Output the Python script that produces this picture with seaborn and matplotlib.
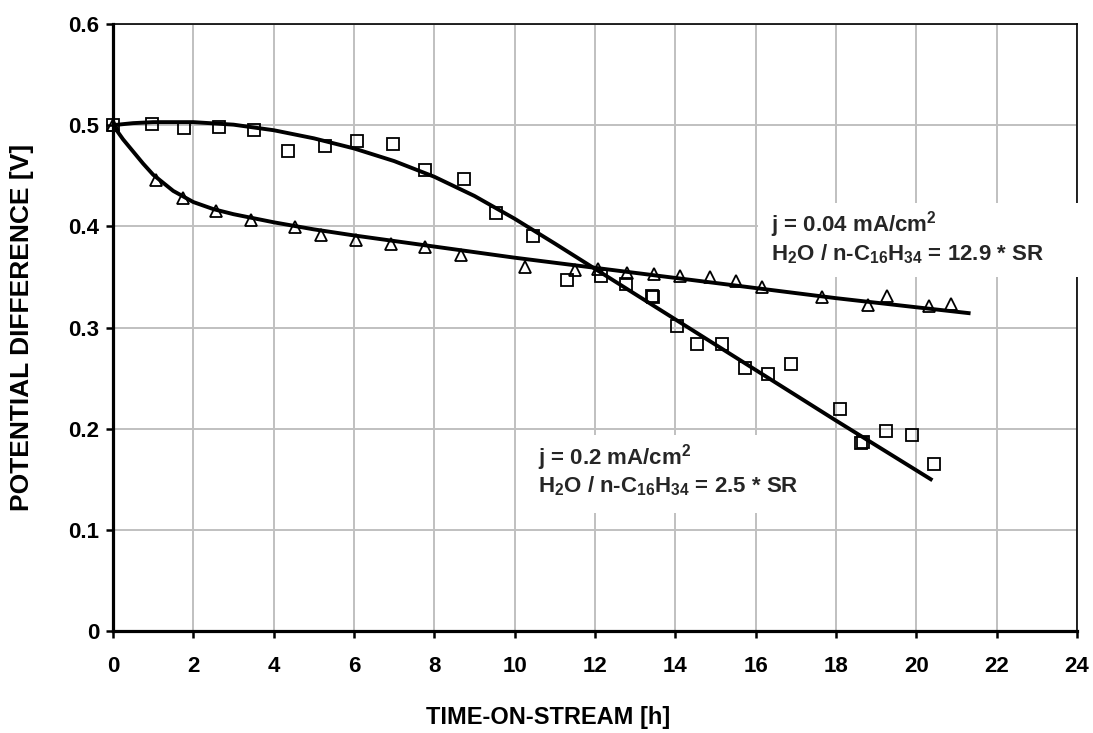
import matplotlib
matplotlib.use("Agg")
import matplotlib.pyplot as plt
import seaborn as sns
import pandas as pd
from matplotlib.patches import Rectangle

# ---------------- data ----------------
sq_t = [0, 0.96, 1.77, 2.63, 3.52, 4.35, 5.29, 6.08, 6.97, 7.78, 8.74, 9.53,
        10.45, 11.31, 12.16, 12.76, 13.45, 13.42, 14.05, 14.55, 15.17, 15.73,
        16.30, 16.89, 18.09, 18.66, 18.62, 19.24, 19.89, 20.43]
sq_v = [0.500, 0.501, 0.497, 0.498, 0.495, 0.474, 0.479, 0.484, 0.481, 0.456,
        0.447, 0.413, 0.390, 0.347, 0.351, 0.343, 0.330, 0.331, 0.301, 0.284,
        0.284, 0.260, 0.254, 0.264, 0.219, 0.187, 0.186, 0.198, 0.194, 0.165]

tri_t = [0, 1.07, 1.74, 2.57, 3.44, 4.54, 5.18, 6.05, 6.91, 7.78, 8.66, 10.26,
         11.51, 12.07, 12.79, 13.47, 14.12, 14.86, 15.50, 16.17, 17.64, 18.79,
         19.27, 20.31, 20.87]
tri_v = [0.500, 0.446, 0.428, 0.415, 0.406, 0.399, 0.391, 0.386, 0.383, 0.380,
         0.372, 0.360, 0.357, 0.358, 0.354, 0.353, 0.351, 0.350, 0.346, 0.340,
         0.330, 0.322, 0.331, 0.321, 0.323]

# trend curves as drawn in the reference
sqfit_t = [0, 0.5, 1, 1.5, 2, 3, 4, 5, 6, 7, 8, 9, 10, 11, 12, 14, 16, 18, 20.4]
sqfit_v = [0.500, 0.502, 0.503, 0.503, 0.503, 0.5005, 0.495, 0.487, 0.477,
           0.4645, 0.449, 0.430, 0.4075, 0.383, 0.358, 0.308, 0.258, 0.208, 0.149]

trifit_t = [0, 0.25, 0.5, 0.75, 1, 1.5, 2, 2.5, 3, 4, 5, 6, 8, 10, 12, 14, 16,
            18, 20, 21.35]
trifit_v = [0.500, 0.486, 0.474, 0.462, 0.451, 0.435, 0.424, 0.417, 0.412,
            0.404, 0.397, 0.391, 0.380, 0.369, 0.359, 0.349, 0.339, 0.329,
            0.320, 0.314]

x_ticks = [0, 2, 4, 6, 8, 10, 12, 14, 16, 18, 20, 22, 24]
y_ticks = [0, 0.1, 0.2, 0.3, 0.4, 0.5, 0.6]
y_tick_labels = ["0", "0.1", "0.2", "0.3", "0.4", "0.5", "0.6"]

label_hi = ["j = 0.04 mA/cm$^{2}$", "H$_{2}$O / n-C$_{16}$H$_{34}$ = 12.9 * SR"]
label_lo = ["j = 0.2 mA/cm$^{2}$", "H$_{2}$O / n-C$_{16}$H$_{34}$ = 2.5 * SR"]

# ---------------- style ----------------
sns.set_theme(style="white")
plt.rcParams["font.family"] = ["Liberation Sans", "DejaVu Sans"]
plt.rcParams["font.weight"] = "bold"
plt.rcParams["mathtext.fontset"] = "custom"
plt.rcParams["mathtext.rm"] = "Liberation Sans:bold"
plt.rcParams["mathtext.it"] = "Liberation Sans:bold"
plt.rcParams["mathtext.bf"] = "Liberation Sans:bold"
plt.rcParams["mathtext.default"] = "regular"

fig = plt.figure(figsize=(10.93, 7.33), dpi=100)
ax = fig.add_axes([113 / 1093, 1 - 631 / 733, (1077 - 113) / 1093, (631 - 24) / 733])

df_sq = pd.DataFrame({"t": sq_t, "v": sq_v})
df_tri = pd.DataFrame({"t": tri_t, "v": tri_v})
df_sqfit = pd.DataFrame({"t": sqfit_t, "v": sqfit_v})
df_trifit = pd.DataFrame({"t": trifit_t, "v": trifit_v})

sns.lineplot(data=df_sqfit, x="t", y="v", ax=ax, color="black", linewidth=2.8,
             sort=False, zorder=4, solid_capstyle="butt")
sns.lineplot(data=df_trifit, x="t", y="v", ax=ax, color="black", linewidth=2.8,
             sort=False, zorder=4, solid_capstyle="butt")
ax.plot(df_sq["t"], df_sq["v"], linestyle="none", marker="s", markersize=8,
        markerfacecolor="none", markeredgecolor="black", markeredgewidth=1.3,
        zorder=5, clip_on=False)
ax.plot(df_tri["t"], df_tri["v"], linestyle="none", marker="^", markersize=9,
        markerfacecolor="none", markeredgecolor="black", markeredgewidth=1.3,
        zorder=5, clip_on=False)

ax.set_xlim(0, 24)
ax.set_ylim(0, 0.6)
ax.set_xticks(x_ticks)
ax.set_xticklabels([str(t) for t in x_ticks])
ax.set_yticks(y_ticks)
ax.set_yticklabels(y_tick_labels)

ax.grid(True, color="#c0c0c0", linewidth=1.4, zorder=0)
ax.set_axisbelow(True)

for side in ["left", "bottom"]:
    ax.spines[side].set_linewidth(2.3)
    ax.spines[side].set_color("black")
for side in ["top", "right"]:
    ax.spines[side].set_linewidth(1.2)
    ax.spines[side].set_color("black")
    ax.spines[side].set_visible(True)

ax.tick_params(axis="both", direction="out", length=5, width=1.8, color="black",
               labelsize=16, labelcolor="black", bottom=True, left=True, pad=5)
ax.tick_params(axis="x", pad=13)
for lbl in ax.get_xticklabels() + ax.get_yticklabels():
    lbl.set_fontweight("bold")

ax.set_xlabel("TIME-ON-STREAM [h]", fontsize=17, fontweight="bold", color="black")
ax.set_ylabel("POTENTIAL DIFFERENCE [V]", fontsize=19, fontweight="bold", color="black")
ax.xaxis.set_label_coords((548 - 113) / 964, -(706 - 631) / 607)
ax.xaxis.label.set_va("top")
ax.yaxis.set_label_coords((22 - 113) / 964, 0.5)
ax.yaxis.label.set_va("center")

# white label boxes
ax.add_patch(Rectangle((16.05, 0.350), 8.5, 0.073, facecolor="white",
                       edgecolor="none", zorder=2.6, clip_on=False))
ax.add_patch(Rectangle((10.15, 0.117), 7.0, 0.077, facecolor="white",
                       edgecolor="none", zorder=2.6, clip_on=False))

ax.text(16.38, 0.3944, label_hi[0], fontsize=16, fontweight="bold", va="baseline",
        ha="left", zorder=6)
ax.text(16.38, 0.3667, label_hi[1], fontsize=16, fontweight="bold", va="baseline",
        ha="left", zorder=6)
ax.text(10.58, 0.165, label_lo[0], fontsize=16, fontweight="bold", va="baseline",
        ha="left", zorder=6)
ax.text(10.58, 0.1374, label_lo[1], fontsize=16, fontweight="bold", va="baseline",
        ha="left", zorder=6)

fig.savefig("out.png", dpi=100)
